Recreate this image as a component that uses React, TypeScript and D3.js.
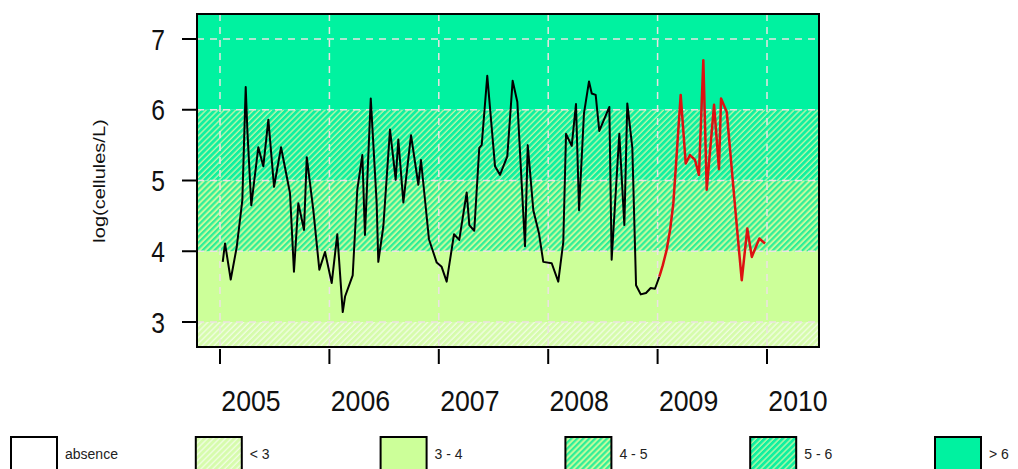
import * as React from "react";
import * as d3 from "d3";

// black series 2005-2008 (decimal year, log cells/L)
const blackDates = [
  2005.025, 2005.046, 2005.098, 2005.153, 2005.204, 2005.235, 2005.25, 2005.286, 2005.35, 2005.396,
  2005.442, 2005.494, 2005.558, 2005.64, 2005.676, 2005.716, 2005.768, 2005.793, 2005.853, 2005.908,
  2005.96, 2006.021, 2006.072, 2006.122, 2006.143, 2006.213, 2006.255, 2006.301, 2006.325, 2006.378,
  2006.432, 2006.447, 2006.493, 2006.554, 2006.606, 2006.63, 2006.676, 2006.746, 2006.813, 2006.837,
  2006.91, 2006.981, 2007.026, 2007.072, 2007.139, 2007.187, 2007.255, 2007.279, 2007.324, 2007.37,
  2007.392, 2007.443, 2007.514, 2007.559, 2007.626, 2007.675, 2007.718, 2007.788, 2007.813, 2007.864,
  2007.916, 2007.955, 2008.032, 2008.092, 2008.138, 2008.163, 2008.215, 2008.254, 2008.282, 2008.327,
  2008.373, 2008.398, 2008.434, 2008.467, 2008.559, 2008.58, 2008.65, 2008.696, 2008.723, 2008.769,
  2008.803, 2008.846, 2008.894, 2008.937, 2008.976, 2009.016,
];
const blackValues = [
  3.85, 4.11, 3.6, 4.06, 4.72, 6.32, 5.71, 4.65, 5.47, 5.2,
  5.86, 4.91, 5.47, 4.82, 3.71, 4.68, 4.3, 5.33, 4.58, 3.74,
  3.99, 3.55, 4.24, 3.14, 3.36, 3.66, 4.87, 5.36, 4.23, 6.16,
  4.68, 3.85, 4.35, 5.72, 5.01, 5.58, 4.69, 5.64, 4.94, 5.29,
  4.17, 3.84, 3.78, 3.57, 4.24, 4.16, 4.83, 4.37, 4.29, 5.46,
  5.5, 6.48, 5.2, 5.08, 5.34, 6.41, 6.11, 4.07, 5.5, 4.58,
  4.25, 3.85, 3.83, 3.57, 4.13, 5.66, 5.49, 6.08, 4.58, 5.95,
  6.4, 6.23, 6.21, 5.7, 6.04, 3.88, 5.66, 4.37, 6.09, 5.46,
  3.52, 3.39, 3.41, 3.48, 3.47, 3.64,
];

// red series 2009
const redDates = [
  2009.016, 2009.047, 2009.083, 2009.114, 2009.144, 2009.175, 2009.211, 2009.257, 2009.296, 2009.342,
  2009.378, 2009.418, 2009.449, 2009.516, 2009.561, 2009.58, 2009.632, 2009.708, 2009.769, 2009.82,
  2009.861, 2009.93, 2009.982,
];
const redValues = [
  3.64, 3.8, 4.02, 4.3, 4.68, 5.38, 6.21, 5.24, 5.36, 5.29,
  5.08, 6.7, 4.87, 6.07, 5.16, 6.16, 5.97, 4.63, 3.59, 4.32,
  3.92, 4.18, 4.11,
];

const yTicks = [3, 4, 5, 6, 7];
const xTickYears = [2005, 2006, 2007, 2008, 2009, 2010];
const bandBreaks = [3, 4, 5, 6];
const legendLabels = ["absence", "< 3", "3 - 4", "4 - 5", "5 - 6", "> 6"];

const W = 1018;
const H = 469;
const plot = { left: 197, right: 819, top: 14, bottom: 347 };

const FONT = "Liberation Sans, Arial, sans-serif";

export default function App() {
  const x = d3.scaleLinear().domain([2005, 2010]).range([220, 767]);
  const y = d3.scaleLinear().domain([3, 7]).range([322, 39]);
  const yMin = y.invert(plot.bottom);
  const yMax = y.invert(plot.top);

  const line = d3
    .line<[number, number]>()
    .x((d) => x(d[0]))
    .y((d) => y(d[1]));

  const blackPts = blackDates.map((d, i) => [d, blackValues[i]] as [number, number]);
  const redPts = redDates.map((d, i) => [d, redValues[i]] as [number, number]);

  // fill of each band / legend box
  const fills = ["#ffffff", "url(#pLow)", "#ccff99", "url(#p45)", "url(#p56)", "#00f2a0"];
  const bandEdges = [yMin, ...bandBreaks, yMax];

  const bands = bandEdges.slice(0, -1).map((lo, i) => ({
    lo,
    hi: bandEdges[i + 1],
    fill: fills[i + 1],
  }));

  const legendX = d3.scaleLinear().domain([0, 5]).range([11, 935]);

  return (
    <svg
      width={W}
      height={H}
      style={{ position: "absolute", left: 0, top: 0, background: "#fff" }}
    >
      <defs>
        <pattern id="pLow" patternUnits="userSpaceOnUse" width={4.2} height={4.2} patternTransform="rotate(45)">
          <rect width={4.2} height={4.2} fill="#d6fcac" />
          <line x1={1} y1={0} x2={1} y2={4.2} stroke="#effde0" strokeWidth={1.4} />
        </pattern>
        <pattern id="p45" patternUnits="userSpaceOnUse" width={4.2} height={4.2} patternTransform="rotate(45)">
          <rect width={4.2} height={4.2} fill="#c4fb9e" />
          <line x1={1.1} y1={0} x2={1.1} y2={4.2} stroke="#2eee98" strokeWidth={2.2} />
        </pattern>
        <pattern id="p56" patternUnits="userSpaceOnUse" width={4.2} height={4.2} patternTransform="rotate(45)">
          <rect width={4.2} height={4.2} fill="#10f0a0" />
          <line x1={1} y1={0} x2={1} y2={4.2} stroke="#b8f8a8" strokeWidth={1.4} />
        </pattern>
        <clipPath id="plotClip">
          <rect x={plot.left} y={plot.top} width={plot.right - plot.left} height={plot.bottom - plot.top} />
        </clipPath>
      </defs>

      {/* bands */}
      <g clipPath="url(#plotClip)">
        {bands.map((b, i) => (
          <rect
            key={i}
            x={plot.left}
            width={plot.right - plot.left}
            y={y(b.hi)}
            height={y(b.lo) - y(b.hi)}
            fill={b.fill}
          />
        ))}
        {/* grid */}
        {xTickYears.map((yr) => (
          <line
            key={"gx" + yr}
            x1={x(yr)}
            x2={x(yr)}
            y1={plot.top}
            y2={plot.bottom}
            stroke="#ece2e2"
            strokeWidth={1.5}
            strokeDasharray="7,6"
          />
        ))}
        {yTicks.map((t) => (
          <line
            key={"gy" + t}
            x1={plot.left}
            x2={plot.right}
            y1={y(t)}
            y2={y(t)}
            stroke="#ece2e2"
            strokeWidth={1.5}
            strokeDasharray="7,6"
          />
        ))}
        <path d={line(blackPts) || ""} fill="none" stroke="#000" strokeWidth={2} strokeLinejoin="round" />
        <path d={line(redPts) || ""} fill="none" stroke="#dd1111" strokeWidth={2.5} strokeLinejoin="round" />
      </g>

      <rect
        x={plot.left}
        y={plot.top}
        width={plot.right - plot.left}
        height={plot.bottom - plot.top}
        fill="none"
        stroke="#000"
        strokeWidth={2}
      />

      {/* y axis */}
      {yTicks.map((t) => (
        <g key={"yt" + t} transform={`translate(0, ${y(t)})`}>
          <line x1={182} x2={plot.left} y1={0} y2={0} stroke="#000" strokeWidth={2} />
          <text
            transform="translate(158, 1) scale(0.85, 1)"
            textAnchor="middle"
            dominantBaseline="central"
            fontFamily={FONT}
            fontSize={29}
            fill="#111"
          >
            {t}
          </text>
        </g>
      ))}
      <text
        transform={`translate(100, 181) rotate(-90) scale(1, 0.8)`}
        textAnchor="middle"
        dominantBaseline="central"
        fontFamily={FONT}
        fontSize={20}
        fill="#111"
      >
        log(cellules/L)
      </text>

      {/* x axis */}
      {xTickYears.map((yr) => (
        <g key={"xt" + yr} transform={`translate(${x(yr)}, 0)`}>
          <line x1={0} x2={0} y1={plot.bottom + 2} y2={364} stroke="#000" strokeWidth={2} />
          <text
            transform="translate(31, 411) scale(0.92, 1)"
            textAnchor="middle"
            fontFamily={FONT}
            fontSize={29}
            fill="#111"
          >
            {yr}
          </text>
        </g>
      ))}

      {/* legend */}
      {legendLabels.map((lab, i) => (
        <g key={"lg" + i} transform={`translate(${legendX(i)}, 437)`}>
          <rect x={0} y={0} width={46} height={40} fill={fills[i]} stroke="#000" strokeWidth={2} />
          <text x={54} y={17} dominantBaseline="central" fontFamily={FONT} fontSize={14} fill="#222">
            {lab}
          </text>
        </g>
      ))}
    </svg>
  );
}
